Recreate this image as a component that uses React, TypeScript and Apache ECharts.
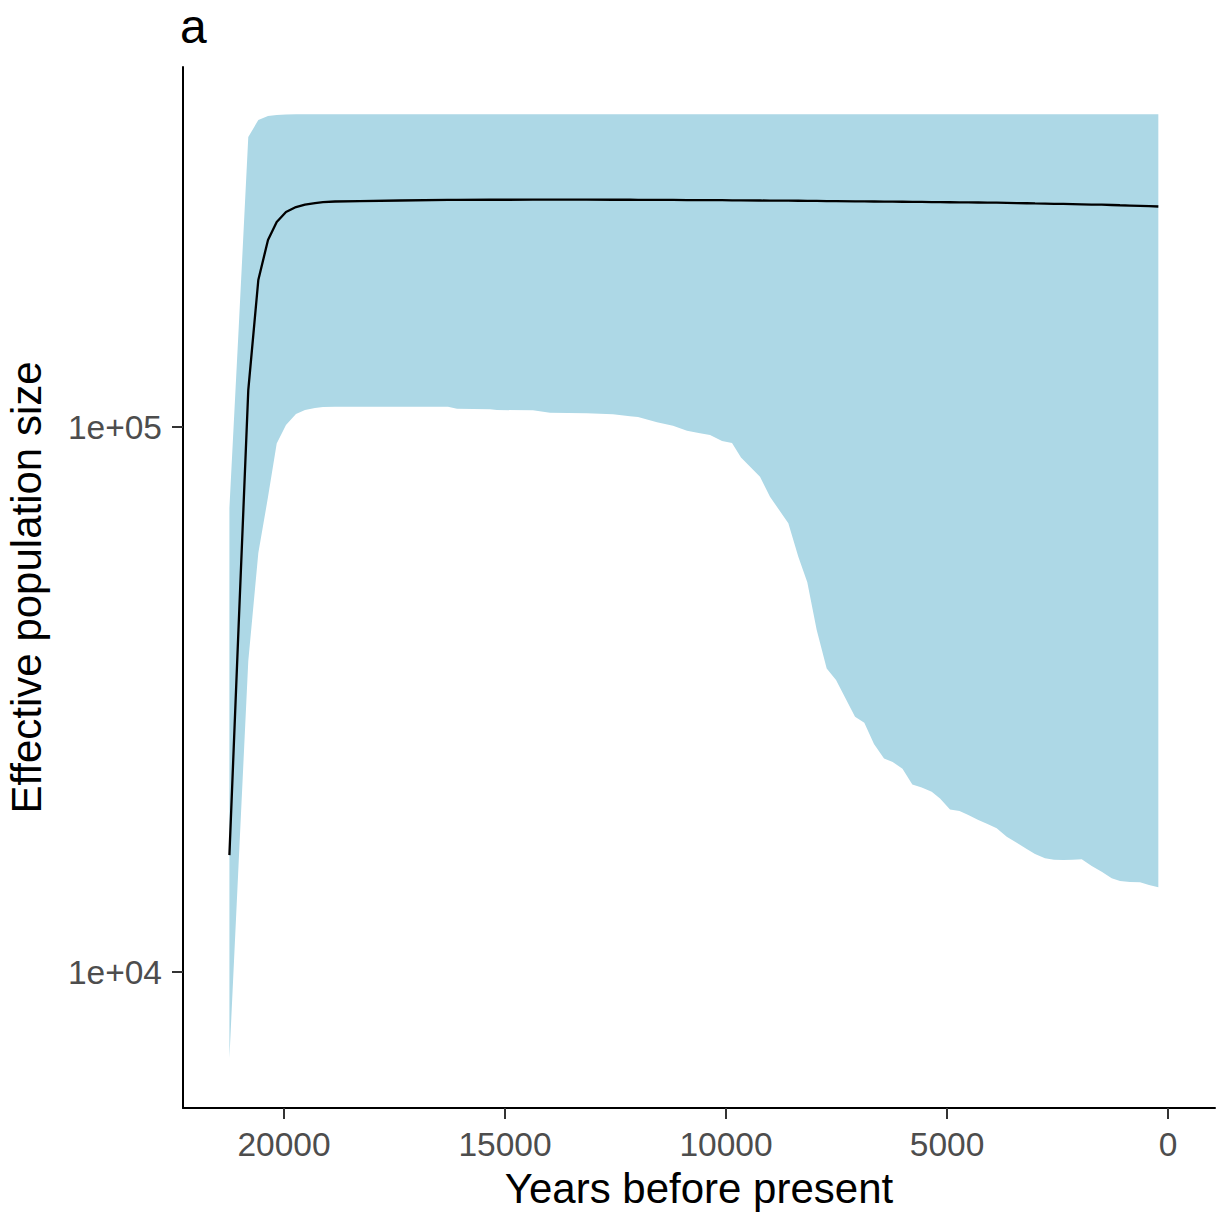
import React, { useEffect, useRef } from 'react';
import * as echarts from 'echarts';

// Years before present (x) and effective population size (median, 95% HPD lower / upper)
const years = [
  21235, 21023, 20808, 20581, 20362, 20165, 19955, 19729, 19525, 19299,
  19118, 18846, 18281, 17376, 16290, 16086, 15339, 15181, 14367, 13982,
  13145, 12557, 12172, 11991, 11561, 11199, 10882, 10588, 10362, 10090,
  9864, 9661, 9231, 9005, 8590, 8364, 8161, 7948, 7722, 7511,
  7081, 6871, 6652, 6425, 6229, 6007, 5785, 5572, 5346, 5158,
  4932, 4717, 4518, 4292, 4084, 3876, 3649, 3423, 3197, 3009,
  2783, 2579, 2369, 2161, 1952, 1726, 1500, 1274, 1086, 860,
  633, 430, 219,
];

const median = [
  16390, 43870, 116900, 186100, 220400, 237700, 248000, 253300, 256000, 257600,
  258500, 259300, 259800, 260400, 261000, 261000, 261200, 261200, 261300, 261300,
  261300, 261200, 261200, 261100, 261000, 261000, 260900, 260900, 260800, 260700,
  260600, 260500, 260400, 260300, 260200, 260100, 260000, 259900, 259800, 259700,
  259500, 259400, 259300, 259200, 259100, 259000, 258900, 258800, 258700, 258600,
  258500, 258400, 258300, 258200, 258100, 258000, 257800, 257600, 257400, 257200,
  257000, 256800, 256600, 256400, 256200, 256000, 255800, 255500, 255200, 254900,
  254600, 254300, 253900,
];

const lower = [
  6955, 16050, 37210, 58710, 74380, 93270, 100850, 105650, 107450, 108360,
  108800, 108900, 108900, 108900, 108960, 108000, 107850, 107450, 107300, 106230,
  105960, 105520, 104620, 104320, 102000, 100550, 98450, 97370, 96680, 94260,
  93470, 87900, 81070, 74520, 66560, 57810, 51880, 42400, 36070, 34330,
  29400, 28670, 26200, 24660, 24280, 23600, 22080, 21810, 21420, 20810,
  19880, 19740, 19410, 19000, 18690, 18350, 17710, 17270, 16820, 16470,
  16170, 16070, 16050, 16070, 16100, 15650, 15280, 14860, 14690, 14630,
  14610, 14450, 14300,
];

const upper = [
  71000, 153000, 340500, 365800, 372000, 373600, 374400, 374800, 375000, 375000,
  375000, 375000, 375000, 375000, 375000, 375000, 375000, 375000, 375000, 375000,
  375000, 375000, 375000, 375000, 375000, 375000, 375000, 375000, 375000, 375000,
  375000, 375000, 375000, 375000, 375000, 375000, 375000, 375000, 375000, 375000,
  375000, 375000, 375000, 375000, 375000, 375000, 375000, 375000, 375000, 375000,
  375000, 375000, 375000, 375000, 375000, 375000, 375000, 375000, 375000, 375000,
  375000, 375000, 375000, 375000, 375000, 375000, 375000, 375000, 375000, 375000,
  375000, 375000, 375000,
];

const xTicks = [0, 5000, 10000, 15000, 20000];
const yTicks = [10000, 100000];
const yTickLabels = ['1e+04', '1e+05'];

const FONT = "'Liberation Sans', Arial, Helvetica, sans-serif";

export default function App() {
  const ref = useRef<HTMLDivElement>(null);

  useEffect(() => {
    if (!ref.current) return;
    const chart = echarts.init(ref.current, null, { renderer: 'svg' });
    const bandData = years.map((y, i) => [y, lower[i], upper[i]]);
    const lineData = years.map((y, i) => [y, median[i]]);

    chart.setOption({
      animation: false,
      backgroundColor: '#ffffff',
      textStyle: { fontFamily: FONT },
      title: {
        text: 'a',
        left: 180,
        top: 4,
        padding: 0,
        textStyle: { fontFamily: FONT, fontSize: 48, lineHeight: 44, fontWeight: 'normal', color: '#000000' },
      },
      grid: {
        left: 183,
        right: 10,
        top: 67,
        bottom: 118,
        containLabel: false,
        outerBoundsMode: 'none',
      },
      xAxis: {
        type: 'value',
        inverse: true,
        min: -1063,
        max: 22285,
        name: 'Years before present',
        nameLocation: 'middle',
        nameGap: 59,
        nameTextStyle: { fontFamily: FONT, fontSize: 42, color: '#000000' },
        axisLine: { show: true, onZero: false, lineStyle: { color: '#000000', width: 2 } },
        axisTick: { show: true, length: 11, customValues: xTicks, lineStyle: { color: '#333333', width: 2 } },
        axisLabel: {
          show: true,
          customValues: xTicks,
          margin: 19,
          fontFamily: FONT,
          fontSize: 33.5,
          color: '#4D4D4D',
          formatter: (v: number) => String(Math.round(v)),
        },
        splitLine: { show: false },
        minorTick: { show: false },
      },
      yAxis: {
        type: 'log',
        logBase: 10,
        min: 5630,
        max: 457700,
        name: 'Effective population size',
        nameLocation: 'middle',
        nameGap: 136,
        nameTextStyle: { fontFamily: FONT, fontSize: 42, color: '#000000' },
        axisLine: { show: true, onZero: false, lineStyle: { color: '#000000', width: 2 } },
        axisTick: { show: true, length: 11, customValues: yTicks, lineStyle: { color: '#333333', width: 2 } },
        axisLabel: {
          show: true,
          customValues: yTicks,
          margin: 21,
          fontFamily: FONT,
          fontSize: 33.5,
          color: '#4D4D4D',
          formatter: (v: number) => {
            for (let i = 0; i < yTicks.length; i++) {
              if (Math.abs(Math.log10(v) - Math.log10(yTicks[i])) < 1e-6) return yTickLabels[i];
            }
            return '';
          },
        },
        splitLine: { show: false },
        minorTick: { show: false },
        minorSplitLine: { show: false },
      },
      series: [
        {
          type: 'custom',
          name: 'HPD',
          data: bandData,
          encode: { x: 0, y: [1, 2] },
          silent: true,
          z: 1,
          renderItem: (params: any, api: any) => {
            if (params.dataIndex !== 0) return null;
            const pts: number[][] = [];
            for (let i = 0; i < years.length; i++) pts.push(api.coord([years[i], upper[i]]));
            for (let i = years.length - 1; i >= 0; i--) pts.push(api.coord([years[i], lower[i]]));
            return {
              type: 'polygon',
              shape: { points: pts },
              style: { fill: '#ADD8E6', stroke: null },
            };
          },
        },
        {
          type: 'line',
          name: 'Median',
          data: lineData,
          symbol: 'none',
          showSymbol: false,
          silent: true,
          z: 3,
          lineStyle: { color: '#000000', width: 2.3 },
        },
      ],
    });

    return () => {
      chart.dispose();
    };
  }, []);

  return (
    <div
      ref={ref}
      style={{ position: 'fixed', left: 0, top: 0, width: 1225, height: 1226, background: '#ffffff' }}
    />
  );
}
